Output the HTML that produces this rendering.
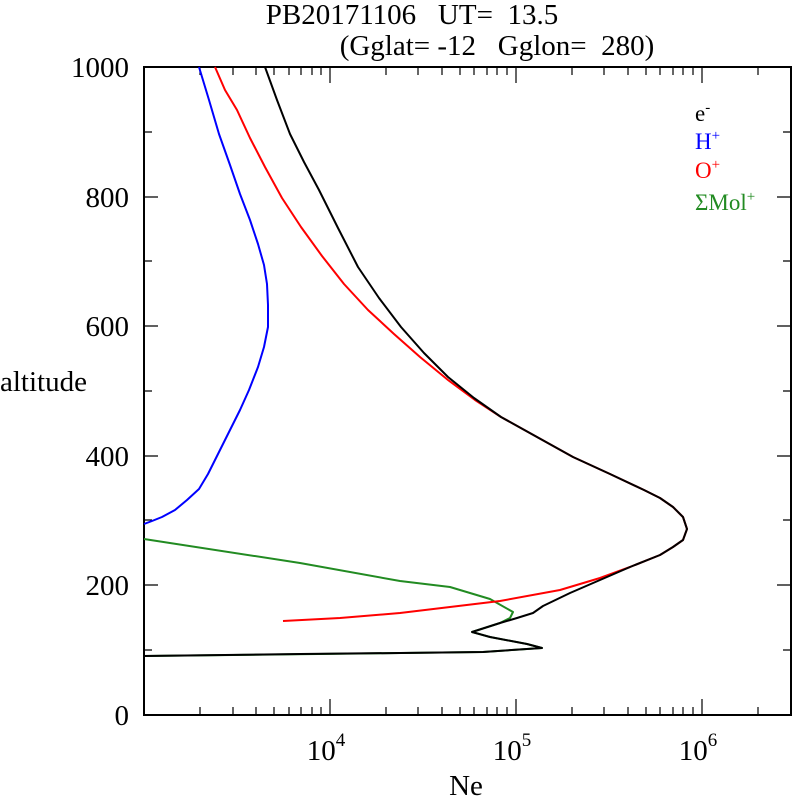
<!DOCTYPE html>
<html><head><style>
body{margin:0;background:#fff}
svg{display:block}
text{font-family:"Liberation Serif",serif;white-space:pre}
</style></head><body>
<svg width="792" height="796" viewBox="0 0 792 796" xmlns="http://www.w3.org/2000/svg">
<text x="412" y="24" font-size="29" text-anchor="middle" xml:space="preserve">PB20171106   UT=  13.5</text>
<text x="497" y="55" font-size="29" text-anchor="middle" xml:space="preserve">(Gglat= -12   Gglon=  280)</text>
<rect x="144" y="67" width="647" height="648" fill="none" stroke="#000" stroke-width="2"/>
<g stroke="#000" stroke-width="1.2">
<path d="M144 650h8M144 585h14M144 520h8M144 456h14M144 391h8M144 326h14M144 261h8M144 197h14M144 132h8
M791 650h-8M791 585h-14M791 520h-8M791 456h-14M791 391h-8M791 326h-14M791 261h-8M791 197h-14M791 132h-8"/>
<path d="M200 715v-8M233 715v-8M256 715v-8M274 715v-8M289 715v-8M301 715v-8M312 715v-8M321 715v-8M330 715v-16
M386 715v-8M418 715v-8M442 715v-8M460 715v-8M474 715v-8M487 715v-8M497 715v-8M507 715v-8M516 715v-16
M572 715v-8M604 715v-8M628 715v-8M646 715v-8M660 715v-8M673 715v-8M683 715v-8M693 715v-8M702 715v-16M758 715v-8
M200 67v8M233 67v8M256 67v8M274 67v8M289 67v8M301 67v8M312 67v8M321 67v8M330 67v16
M386 67v8M418 67v8M442 67v8M460 67v8M474 67v8M487 67v8M497 67v8M507 67v8M516 67v16
M572 67v8M604 67v8M628 67v8M646 67v8M660 67v8M673 67v8M683 67v8M693 67v8M702 67v16M758 67v8"/>
</g>
<g font-size="29" text-anchor="end">
<text x="129" y="725">0</text><text x="129" y="595">200</text><text x="129" y="466">400</text>
<text x="129" y="336">600</text><text x="129" y="207">800</text><text x="129" y="77">1000</text>
</g>
<text x="0" y="391" font-size="29">altitude</text>
<g font-size="29" text-anchor="middle">
<text x="326" y="760">10<tspan font-size="19" dy="-14">4</tspan></text>
<text x="512" y="760">10<tspan font-size="19" dy="-14">5</tspan></text>
<text x="698" y="760">10<tspan font-size="19" dy="-14">6</tspan></text>
<text x="466" y="795">Ne</text>
</g>
<g font-size="23">
<text x="695" y="121" fill="#000">e<tspan font-size="15" dy="-9">-</tspan></text>
<text x="695" y="149" fill="#00f">H<tspan font-size="15" dy="-9">+</tspan></text>
<text x="695" y="178" fill="#f00">O<tspan font-size="15" dy="-9">+</tspan></text>
<text x="695" y="210" fill="#228B22">ΣMol<tspan font-size="15" dy="-9">+</tspan></text>
</g>
<g fill="none" stroke-width="2" stroke-linejoin="round">
<polyline stroke="#00f" points="199,67 209,100 219,134 230,165 240,194 250,220 258,244 264,265 267,284 268,305 268,327 264,347 258,367 249,390 240,410 231,428 223,444 215,460 208,474 199,489 187,500 175,510 162,517 152,521 144,524"/>
<polyline stroke="#228B22" points="144,539 300,563 400,581 450,587 490,599 513,612 510,618 500,623 472,632 490,637 527,644 542,648 483,652 144,656"/>
<polyline stroke="#f00" points="215,67 225,90 237,110 250,138 265,167 282,198 301,227 322,256 344,284 368,310 394,334 420,357 448,380 475,400 501,417 537,437 573,457 610,474 644,490 660,498 673,507 683,517 687,529 683,540 673,547 660,555 630,567 600,578 560,590 500,601 450,607 400,613 340,618 283,621"/>
<polyline stroke="#000" points="265,67 277,100 290,134 304,162 319,190 338,228 358,267 379,298 401,327 424,353 448,377 474,398 501,417 537,437 573,457 610,474 644,490 660,498 673,507 683,517 687,529 683,540 673,547 660,555 630,567 600,580 570,593 543,606 533,613 517,618 500,623 472,632 490,637 527,644 542,648 483,652 400,653 300,654 144,656"/>
</g>
</svg>
</body></html>
